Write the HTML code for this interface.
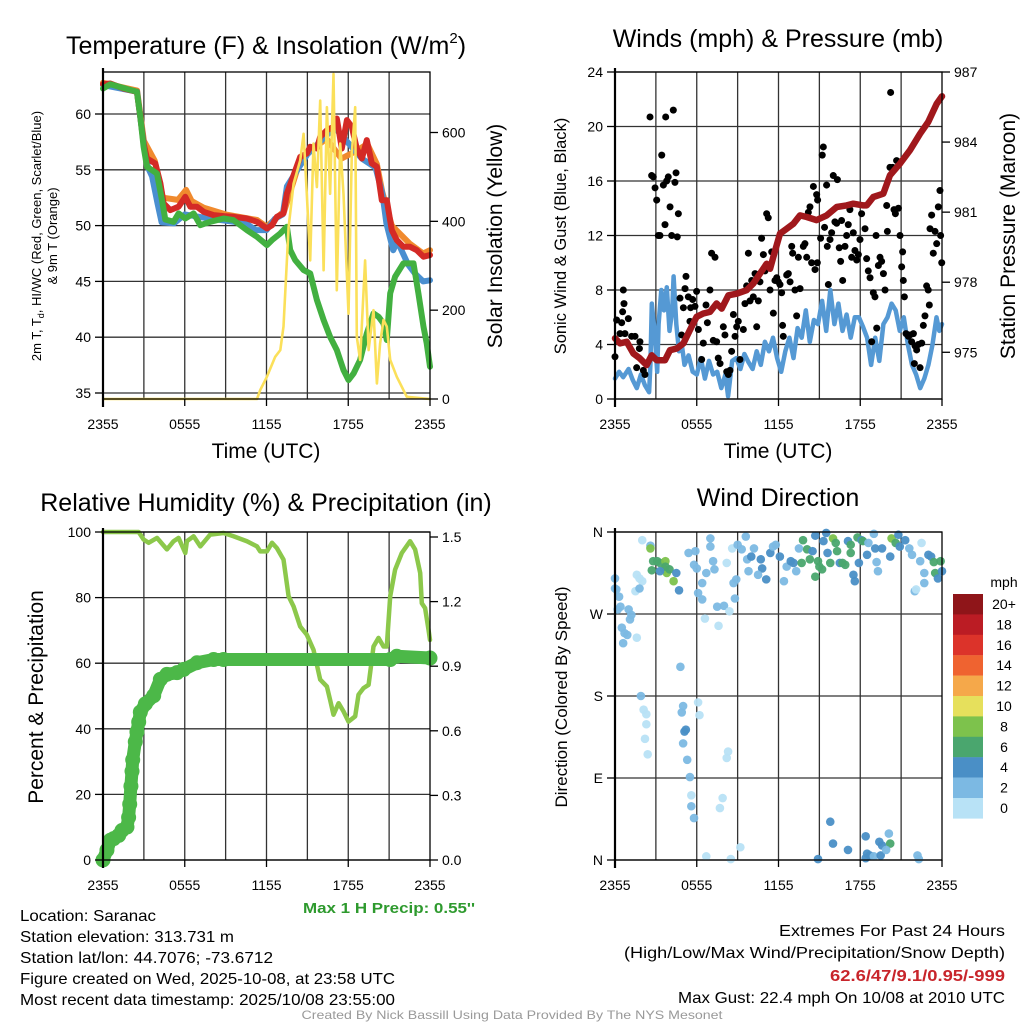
<!DOCTYPE html>
<html><head><meta charset="utf-8"><style>
html,body{margin:0;padding:0;background:#fff;}
svg{display:block;font-family:"Liberation Sans",sans-serif;}
.nar{font-family:"Liberation Sans Narrow","Liberation Sans",sans-serif;}
</style></head><body>
<svg id="fig" width="1024" height="1024" viewBox="0 0 1024 1024" xmlns="http://www.w3.org/2000/svg">
<g id="grid"></g>
<g id="marks"></g>
<g id="axes"></g>

<text x="266" y="54" font-size="25" text-anchor="middle">Temperature (F) &amp; Insolation (W/m<tspan font-size="15" dy="-11">2</tspan><tspan dy="11">)</tspan></text>
<text x="778" y="47" font-size="25" text-anchor="middle">Winds (mph) &amp; Pressure (mb)</text>
<text x="266" y="511" font-size="25" text-anchor="middle">Relative Humidity (%) &amp; Precipitation (in)</text>
<text x="778" y="506" font-size="25" text-anchor="middle">Wind Direction</text>

<text x="266" y="458" font-size="21" text-anchor="middle">Time (UTC)</text>
<text x="778" y="458" font-size="21" text-anchor="middle">Time (UTC)</text>

<text transform="translate(41,236) rotate(-90)" font-size="13" text-anchor="middle">2m T, T<tspan font-size="9" dy="3">d</tspan><tspan dy="-3">, HI/WC (Red, Green, Scarlet/Blue)</tspan></text>
<text transform="translate(57,236) rotate(-90)" font-size="13" text-anchor="middle">&amp; 9m T (Orange)</text>
<text transform="translate(502,236) rotate(-90)" font-size="21" text-anchor="middle">Solar Insolation (Yellow)</text>
<text transform="translate(566,236) rotate(-90)" font-size="16.5" text-anchor="middle">Sonic Wind &amp; Gust (Blue, Black)</text>
<text transform="translate(1015,236) rotate(-90)" font-size="21" text-anchor="middle">Station Pressure (Maroon)</text>
<text transform="translate(43,697) rotate(-90)" font-size="21" text-anchor="middle">Percent &amp; Precipitation</text>
<text transform="translate(567,697) rotate(-90)" font-size="17" text-anchor="middle">Direction (Colored By Speed)</text>

<g id="cbar"></g>
<text x="1004" y="587" font-size="14" text-anchor="middle">mph</text>

<text class="nar" x="303" y="913" font-size="15" font-weight="bold" fill="#2e9a2e" textLength="172" lengthAdjust="spacingAndGlyphs">Max 1 H Precip: 0.55''</text>
<text class="nar" x="20" y="921" font-size="16" textLength="136" lengthAdjust="spacingAndGlyphs">Location: Saranac</text>
<text class="nar" x="20" y="942" font-size="16" textLength="214" lengthAdjust="spacingAndGlyphs">Station elevation: 313.731 m</text>
<text class="nar" x="20" y="963" font-size="16" textLength="253" lengthAdjust="spacingAndGlyphs">Station lat/lon: 44.7076; -73.6712</text>
<text class="nar" x="20" y="984" font-size="16" textLength="375" lengthAdjust="spacingAndGlyphs">Figure created on Wed, 2025-10-08, at 23:58 UTC</text>
<text class="nar" x="20" y="1005" font-size="16" textLength="375" lengthAdjust="spacingAndGlyphs">Most recent data timestamp: 2025/10/08 23:55:00</text>

<text class="nar" x="1005" y="936" font-size="16" text-anchor="end" textLength="226" lengthAdjust="spacingAndGlyphs">Extremes For Past 24 Hours</text>
<text class="nar" x="1005" y="958" font-size="16" text-anchor="end" textLength="381" lengthAdjust="spacingAndGlyphs">(High/Low/Max Wind/Precipitation/Snow Depth)</text>
<text class="nar" x="1005" y="981" font-size="16" font-weight="bold" fill="#c8252b" text-anchor="end" textLength="175" lengthAdjust="spacingAndGlyphs">62.6/47/9.1/0.95/-999</text>
<text class="nar" x="1005" y="1003" font-size="16" text-anchor="end" textLength="327" lengthAdjust="spacingAndGlyphs">Max Gust: 22.4 mph On 10/08 at 2010 UTC</text>
<text class="nar" x="512" y="1019" font-size="12" fill="#999" text-anchor="middle" textLength="421" lengthAdjust="spacingAndGlyphs">Created By Nick Bassill Using Data Provided By The NYS Mesonet</text>
</svg>
<script>
// ---------- data ----------
const timeTickHours=[0,6,12,18,24];
const timeTickLabels=["2355","0555","1155","1755","2355"];
const tempTicks=[35,40,45,50,55,60];
const solarTicks=[0,200,400,600];
const windTicks=[0,4,8,12,16,20,24];
const presTicks=[975,978,981,984,987];
const rhTicks=[0,20,40,60,80,100];
const precipTicks=[0.0,0.3,0.6,0.9,1.2,1.5];
const precipTickLabels=["0.0","0.3","0.6","0.9","1.2","1.5"];
const dirTicks=[0,90,180,270,360];
const dirTickLabels=["N","E","S","W","N"];

const redH=[0,0.54,1.52,2.49,2.74,2.98,3.23,3.84,4.21,4.45,4.94,5.55,6.04,6.41,6.9,7.38,8.12,8.85,9.58,10.56,11.3,12.03,12.4,12.76,13.25,13.5,13.99,14.47,14.96,15.21,15.7,15.94,16.43,16.92,17.16,17.53,17.9,18.26,18.63,19.0,19.36,19.73,20.1,20.46,20.83,21.2,21.56,22.05,22.54,23.03,23.52,24];
const redT=[62.67,62.73,62.28,61.99,59.75,57.36,56.01,55.57,53.78,51.99,51.39,51.69,52.58,51.69,51.69,51.24,50.94,50.85,50.79,50.64,50.34,49.75,50.04,50.79,51.09,52.88,54.52,56.16,56.46,57.06,56.91,57.96,58.55,58.85,59.6,56.91,59.45,58.85,56.91,56.01,57.66,55.57,55.27,52.28,52.28,49.6,48.7,48.1,48.1,47.8,47.21,47.36];
const orangeH=[0,2.5,3,3.8,4.4,5.5,6.1,6.5,7.4,9,11.3,12,13.3,14.5,16.4,17.5,18.6,19.4,20.1,20.5,21.2,22.5,23.5,24];
const orangeT=[62.8,62.1,57.6,55.8,52.5,52.3,53.2,52.2,51.6,51,50.5,49.9,51.3,56,57.8,56,56.7,57.3,55.5,53,50,48.4,47.5,47.8];
const blueH=[0,2.5,2.74,3,3.3,3.6,4.0,4.3,5.2,6,8,10.5,11.2,12,12.6,13.2,13.5,14,15,17,19,20,20.5,20.8,21.3,21.6,22.4,22.9,23.5,24];
const blueT=[62.6,62,59.7,57.3,55.2,54.4,52.0,50.3,50.2,51,50.6,50.2,49.6,49.6,50.6,51,53.5,54.5,56.4,58.8,56,55.2,52.9,50.2,47.8,48.6,46.5,45.7,45.0,45.1];
const greenH=[0,0.54,2.49,2.74,2.98,3.23,3.96,4.33,4.57,5.18,5.55,6.04,6.65,7.14,7.87,8.85,9.58,10.56,11.3,12.03,12.4,13.01,13.5,13.74,14.11,14.72,15.21,15.7,16.19,16.67,17.16,17.65,18.02,18.39,18.87,19.36,19.85,20.22,20.59,20.83,21.08,21.44,22.05,22.79,23.15,23.52,23.76,24];
const greenT=[62.28,62.67,61.99,59.75,57.06,55.27,54.67,52.28,50.55,50.34,51.09,50.64,51.09,50.04,50.34,50.64,50.49,49.6,49.0,48.25,48.7,49.3,49.9,47.81,46.91,46.01,45.72,43.33,41.54,40.04,38.85,37.06,36.16,36.76,37.96,40.34,42.13,41.84,41.24,39.75,43.93,45.42,46.61,46.61,43.93,40.94,39.45,37.36];
const solarH=[0,11.3,11.54,12.03,12.64,13.01,13.25,13.62,13.99,14.47,14.72,14.96,15.21,15.45,15.7,15.94,16.19,16.43,16.67,16.92,17.16,17.41,17.65,18.02,18.26,18.51,18.63,18.87,19.24,19.49,19.85,20.1,20.34,20.59,20.83,21.08,21.56,22.3,24];
const solarW=[0,0,20,50,95,110,163,387,485,537,597,462,312,575,477,672,290,657,462,732,245,575,462,192,552,657,140,88,312,110,200,35,125,178,163,88,50,5,0];

const presH=[0,0.37,0.86,1.35,1.83,2.32,2.69,3.06,3.67,4.04,4.53,5.02,5.5,5.99,6.48,6.97,7.46,7.83,8.32,8.93,9.66,10.15,10.64,11.13,11.38,11.62,12.11,12.6,13.09,13.58,14.07,14.8,15.54,16.27,17.0,17.49,18.23,18.47,18.96,19.69,20.18,20.92,21.65,22.39,22.99,23.61,24];
const presMb=[975.6,975.38,975.45,974.95,974.74,974.45,974.87,974.66,974.66,975.09,975.16,975.38,975.95,976.52,976.66,976.73,977.09,976.87,977.44,977.51,977.66,977.94,978.37,978.79,978.58,979.08,980.08,980.29,980.5,980.86,980.79,980.66,980.86,981.22,981.29,981.36,981.29,981.29,981.65,981.79,982.58,983.08,983.65,984.36,984.86,985.64,985.96];
const windH=[0,0.3,0.6,1.0,1.3,1.6,1.9,2.2,2.5,2.6,2.7,2.9,3.1,3.2,3.4,3.6,3.8,4.0,4.2,4.3,4.5,4.7,4.9,5.1,5.4,5.7,6.0,6.3,6.6,6.9,7.2,7.5,7.8,8.1,8.3,8.6,8.9,9.2,9.5,9.8,10.1,10.4,10.7,11.0,11.3,11.6,11.9,12.2,12.5,12.8,13.1,13.4,13.7,14.0,14.3,14.6,14.9,15.2,15.5,15.8,16.1,16.4,16.7,17.0,17.3,17.6,17.9,18.2,18.5,18.8,19.1,19.4,19.7,20.0,20.3,20.6,20.9,21.2,21.5,21.8,22.1,22.4,22.7,23.0,23.3,23.6,23.8,24.0];
const windMph=[1.5,2.0,1.6,2.2,1.4,0.8,1.8,1.0,0.5,2.5,7.0,5.0,2.0,5.5,8.0,6.5,8.2,5.0,6.5,9.0,5.5,3.5,4.0,2.5,3.2,2.0,1.8,3.0,1.5,2.8,1.8,2.0,0.8,1.8,0.2,2.8,3.0,2.2,3.3,2.7,2.2,3.5,2.5,4.2,3.5,4.5,3.0,2.0,3.5,4.5,3.0,5.2,4.5,6.5,4.2,5.8,5.5,7.2,5.0,8.0,5.5,7.0,5.0,6.2,4.5,6.0,6.0,5.3,4.5,2.5,4.5,2.8,5.5,6.0,7.0,6.5,5.0,6.0,4.0,2.5,1.8,0.8,1.5,2.5,4.0,6.0,5.0,5.5];
const gustH=[0,0.12,0.37,0.49,0.61,0.66,0.56,0.73,0.98,1.22,1.47,1.59,1.83,1.79,2.08,2.2,2.57,2.69,2.81,2.94,3.06,3.18,3.3,3.43,3.55,3.67,3.72,3.79,3.91,4.04,4.16,4.28,4.4,4.48,4.57,4.65,4.77,4.89,5.02,5.14,5.21,5.38,5.5,5.55,5.7,5.87,5.99,6.12,6.36,6.48,6.68,6.78,6.97,7.09,7.34,7.21,7.46,7.58,7.71,7.95,8.07,8.2,8.32,8.44,8.56,8.69,8.81,8.93,9.05,9.17,9.42,9.54,9.66,9.79,9.91,10.03,10.15,10.28,10.4,10.52,10.64,10.76,10.89,11.01,11.13,11.25,11.38,11.5,11.62,11.74,11.87,11.99,12.11,12.23,12.3,12.35,12.6,12.72,12.85,12.97,13.04,13.21,13.33,13.46,13.58,13.82,13.94,14.07,14.19,14.31,14.43,14.56,14.68,14.8,14.85,14.87,15.09,15.21,15.29,15.38,15.53,15.58,15.66,15.78,15.9,16.02,16.14,16.27,16.32,16.46,16.56,16.63,16.71,16.88,17.0,17.12,17.24,17.37,17.49,17.61,17.74,17.86,17.98,18.1,18.35,18.47,18.59,18.72,18.84,18.96,19.08,19.16,19.21,19.33,19.45,19.57,19.7,19.82,19.94,19.99,20.18,20.23,20.38,20.48,20.58,20.67,20.8,20.92,21.04,21.11,21.16,21.24,21.36,21.53,21.65,21.77,21.9,21.97,22.02,22.14,22.26,22.39,22.51,22.63,22.75,22.87,22.99,23.07,23.12,23.24,23.36,23.49,23.61,23.73,23.85,23.9,23.98];
const gustMph=[3.1,5.8,4.8,5.6,8.0,7.0,6.4,4.8,5.9,4.6,4.6,2.3,4.2,3.7,2.1,1.8,20.7,16.4,16.3,15.5,14.6,12.0,12.0,17.9,15.7,12.8,20.7,16.0,16.3,14.1,12.0,21.2,15.9,16.6,11.9,13.6,7.4,4.7,6.7,8.1,9.0,7.5,5.7,6.7,7.3,6.8,7.9,5.1,2.9,4.1,6.9,5.6,8.0,10.7,10.4,4.3,4.2,3.0,2.6,5.3,4.7,2.0,1.8,2.1,3.5,6.2,4.6,5.3,5.7,2.9,5.1,7.0,8.3,10.7,7.2,8.7,7.5,9.2,5.3,7.2,8.6,11.8,10.6,9.4,13.6,13.3,8.0,10.8,6.3,8.7,8.9,8.6,8.4,7.8,5.4,4.6,9.1,9.2,8.6,11.2,10.7,8.0,6.1,10.4,8.1,11.2,11.4,10.4,13.7,14.1,10.0,15.6,9.5,15.0,10.0,14.6,11.8,17.9,18.5,12.6,15.7,11.2,8.4,11.7,12.2,16.4,13.0,12.9,16.1,11.1,10.1,13.1,8.7,11.2,12.0,12.8,13.9,10.4,12.2,10.9,10.2,10.6,11.7,13.6,12.5,10.3,9.4,8.9,4.2,7.8,7.5,12.0,5.2,9.8,10.4,10.1,9.2,8.0,14.2,12.3,17.0,22.5,17.0,13.9,13.6,17.5,14.0,12.0,9.7,10.8,8.7,7.5,4.8,4.6,4.7,4.2,4.8,2.6,3.9,3.6,4.0,2.3,4.1,5.4,6.1,8.3,8.0,6.9,12.5,13.5,10.7,12.3,11.4,14.1,15.3,12.0,10.0];

const rhH=[0,2.62,2.98,3.35,3.96,4.69,5.18,5.55,6.04,6.16,6.65,7.14,7.87,8.85,9.58,10.56,11.3,11.54,12.03,12.4,12.76,13.25,13.62,13.99,14.47,14.96,15.45,15.94,16.43,16.67,16.92,17.29,17.65,18.02,18.51,18.75,19.12,19.49,19.85,20.22,20.59,20.83,21.08,21.44,21.93,22.54,22.91,23.28,23.4,23.64,23.89,24];
const rhPct=[100,100,97.7,96.7,98.2,94.7,97.2,98.2,93.6,97.2,98.7,95.6,99.2,99.7,98.7,97.2,95.6,94.1,94.1,96.7,95.1,91.6,80.4,77.3,71.2,68.7,64.1,55.0,52.9,48.8,44.3,47.8,45.3,42.2,43.8,50.4,52.4,53.4,65.1,67.7,65.1,65.1,80.4,88.5,93.6,97.2,94.7,87.5,78.3,76.8,70.2,67.1];
const precipH=[0,0.29,0.54,0.78,1.15,1.39,1.76,1.88,1.96,2.05,2.13,2.18,2.37,2.49,2.62,2.74,3.11,3.72,4.21,4.69,5.43,5.92,6.9,8.12,8.85,21.08,21.56,24];
const precipIn=[0,0.046,0.092,0.099,0.114,0.137,0.153,0.198,0.259,0.343,0.412,0.465,0.549,0.595,0.641,0.687,0.725,0.763,0.839,0.862,0.87,0.885,0.916,0.931,0.931,0.931,0.946,0.938];

const dirH=[0,0,0.1,0.3,0.2,0.4,1.0,1.2,1.1,0.5,0.7,0.6,0.9,1.6,1.5,1.6,1.8,2.0,1.8,2.0,2.6,2.6,2.8,2.7,3.1,3.3,3.7,3.6,3.8,4.0,4.3,4.5,4.7,3.7,3.3,4.8,1.9,2.1,2.3,2.3,2.2,2.4,4.9,5.0,5.1,5.2,5.0,5.3,5.5,5.6,5.6,5.8,6.1,6.2,6.7,7.9,7.7,8.3,8.2,9.2,8.5,5.4,5.9,5.8,6.0,6.1,6.4,6.4,6.6,6.7,7.0,7.0,7.2,7.3,7.5,7.6,8.0,8.2,8.4,8.6,8.7,8.8,8.9,9.0,9.3,9.6,9.7,9.8,10.0,10.2,10.7,10.8,11.1,10.5,11.4,11.6,11.8,12.1,12.4,12.6,12.9,13.1,13.3,13.5,13.7,13.8,14.1,14.3,14.5,14.7,14.7,14.9,15.0,15.2,15.3,15.5,15.6,15.8,16.0,16.2,16.3,16.5,16.7,16.9,17.1,17.3,17.3,17.5,17.6,17.8,17.9,18.1,18.2,18.5,18.6,19.0,19.1,19.2,19.3,19.6,20.2,20.3,20.6,20.8,20.9,21.3,21.6,21.8,22.0,22.4,22.5,22.7,23.0,23.2,23.4,23.5,23.7,23.9,24.0,22.7,22.1,15.8,16.0,17.1,14.9,18.4,18.5,18.7,18.4,19.0,19.5,19.4,19.6,20.1,20.2,19.9,22.2,22.3];
const dirDeg=[309,298,297,289,275,278,275,269,264,255,249,238,247,244,295,313,309,306,298,351,345,342,328,318,328,326,328,319,315,319,306,315,296,322,317,212,180,165,160,149,133,116,162,169,141,143,128,110,91,71,59,46,173,159,4,68,57,119,112,14,1,337,339,324,320,293,286,304,265,315,353,344,328,319,278,257,279,326,273,342,304,287,308,346,341,355,330,317,333,342,330,320,308,313,337,344,346,333,306,322,328,326,317,342,326,351,341,330,339,356,311,328,322,319,350,359,337,326,353,348,339,326,326,324,350,346,337,313,306,354,326,351,350,335,348,358,342,327,317,342,333,353,348,357,344,351,342,335,295,328,348,315,335,333,327,315,309,328,317,304,297,42,18,11,1,26,7,5,2,4,5,20,16,29,18,11,5,1];
const dirSpd=[3,3,3,3,3,3,3,3,3,3,3,3,3,1,1,1,1,1,3,1,3,9,7,7,7,7,9,9,9,7,9,5,5,7,5,3,3,1,1,1,1,1,3,3,5,5,3,3,3,1,3,3,1,1,1,1,1,1,1,1,1,3,3,3,3,3,3,3,1,3,3,3,3,3,3,1,3,1,1,1,3,3,3,3,3,3,3,3,5,3,5,5,5,3,5,3,3,5,3,3,5,5,3,3,7,7,7,7,5,5,7,7,7,7,5,5,5,7,9,7,7,5,7,7,5,7,7,5,5,7,5,5,7,5,3,3,5,3,3,5,5,9,7,5,5,5,3,3,3,3,1,3,5,5,7,7,5,7,5,3,1,5,5,5,5,5,5,5,5,3,5,5,5,3,7,3,3,3];

const cbarLabels=["20+","18","16","14","12","10","8","6","4","2","0"];
const cbarColors=["#8f1519","#bb1c24","#dc332a","#ef6330","#f5a84a","#e6e05c","#7dc24c","#4aa66e","#4a8fc6","#7cb9e3","#b8e2f6"];

// ---------- helpers ----------
const NS="http://www.w3.org/2000/svg";
const G=document.getElementById('grid'),M=document.getElementById('marks'),A=document.getElementById('axes');
function mk(parent,tag,attrs){const e=document.createElementNS(NS,tag);for(const k in attrs)e.setAttribute(k,attrs[k]);parent.appendChild(e);return e;}
function lin(d0,d1,r0,r1){return v=>r0+(v-d0)/(d1-d0)*(r1-r0);}
function pathD(xs,ys,fx,fy){return xs.map((h,i)=>(i?'L':'M')+fx(h).toFixed(1)+','+fy(ys[i]).toFixed(1)).join('');}

const P=[
 {x0:103,x1:430,y0:72,y1:399,n:'temperature'},
 {x0:615,x1:942,y0:72,y1:399,n:'winds'},
 {x0:103,x1:430,y0:532,y1:860,n:'humidity'},
 {x0:615,x1:942,y0:532,y1:860,n:'direction'}];
P.forEach(p=>{p.x=lin(0,24,p.x0,p.x1);});
const tY=lin(35,60,393,114), sY=lin(0,600,399,132.5);
const wY=lin(0,24,399,72), pY=lin(973,987,399,72);
const rY=lin(0,100,860,532), qY=lin(0,1.5,860,537);
const dY=lin(0,360,860,532);

P.forEach((p,pi)=>{
  for(let h=3;h<24;h+=3){
    const l=mk(G,'line',{x1:p.x(h),x2:p.x(h),y1:p.y0,y2:p.y1,stroke:'#333','stroke-width':1.3});
    
    
  }
  const fr=mk(A,'rect',{x:p.x0,y:p.y0,width:p.x1-p.x0,height:p.y1-p.y0,fill:'none',stroke:'#000','stroke-width':1.3});
  
  
  const lx=mk(A,'line',{x1:p.x0,x2:p.x0,y1:p.y0-4,y2:p.y1+8,stroke:'#000','stroke-width':2.2});
  
  
  timeTickHours.forEach((h,i)=>{
    const t=mk(A,'line',{x1:p.x(h),x2:p.x(h),y1:p.y1,y2:p.y1+7,stroke:'#000','stroke-width':1.3});
    
    
    const tx=mk(A,'text',{x:p.x(h),y:p.y1+30,'font-size':14,'text-anchor':'middle'});
    tx.textContent=timeTickLabels[i];
    
    
  });
});
function hgrid(p,vals,f){vals.forEach(v=>{const l=mk(G,'line',{x1:p.x0,x2:p.x1,y1:f(v),y2:f(v),stroke:'#333','stroke-width':1.3});
  
  });}
function yTicks(p,vals,labels,f,side,name){vals.forEach((v,i)=>{
  const x=side==='l'?p.x0:p.x1, d=side==='l'?-8:8;
  const t=mk(A,'line',{x1:x,x2:x+d,y1:f(v),y2:f(v),stroke:'#000','stroke-width':1.3});
  
  
  const tx=mk(A,'text',{x:side==='l'?x-12:x+12,y:f(v)+5,'font-size':14,'text-anchor':side==='l'?'end':'start'});
  tx.textContent=labels[i];
  
  });}
hgrid(P[0],tempTicks,tY); yTicks(P[0],tempTicks,tempTicks,tY,'l','temperature-y');
yTicks(P[0],solarTicks,solarTicks,sY,'r','insolation-y');
hgrid(P[1],windTicks,wY); yTicks(P[1],windTicks,windTicks,wY,'l','wind-y');
yTicks(P[1],presTicks,presTicks,pY,'r','pressure-y');
hgrid(P[2],rhTicks,rY); yTicks(P[2],rhTicks,rhTicks,rY,'l','humidity-y');
yTicks(P[2],precipTicks,precipTickLabels,qY,'r','precip-y');
hgrid(P[3],dirTicks,dY); yTicks(P[3],dirTicks,dirTickLabels,dY,'l','direction-y');

const p1=P[0];
function line(xs,ys,fx,fy,col,w,name){const e=mk(M,'path',{d:pathD(xs,ys,fx,fy),fill:'none',stroke:col,'stroke-width':w,'stroke-linejoin':'round','stroke-linecap':'round'});
  
  return e;}
line(orangeH,orangeT,p1.x,tY,'#f08a2e',6,'9m-temperature-line');
line(blueH,blueT,p1.x,tY,'#4a8fd0',6,'wind-chill-line');
line(redH,redT,p1.x,tY,'#d42a26',6,'2m-temperature-line');
line(greenH,greenT,p1.x,tY,'#42b040',6,'dewpoint-line');
line(solarH,solarW,p1.x,sY,'#fbe05a',2.6,'solar-insolation-line');

const p2=P[1];
line(windH,windMph,p2.x,wY,'#5599d4',4.5,'sonic-wind-line');
gustH.forEach((h,i)=>{const c=mk(M,'circle',{cx:p2.x(h),cy:wY(gustMph[i]),r:3.5,fill:'#000'});
  
  });
line(presH,presMb,p2.x,pY,'#a0181c',6.5,'station-pressure-line');

const p3=P[2];
line(rhH,rhPct,p3.x,rY,'#8cc84b',4.5,'relative-humidity-line');
line(precipH,precipIn,p3.x,qY,'#4cb848',13,'precipitation-line');
precipH.forEach((h,i)=>{const c=mk(M,'circle',{cx:p3.x(h),cy:qY(precipIn[i]),r:7.5,fill:'#4cb848'});
  
  });

const p4=P[3];
function spdColor(s){let idx=Math.min(10,Math.floor(s/2));return cbarColors[10-idx];}
dirH.forEach((h,i)=>{const c=mk(M,'circle',{cx:p4.x(h),cy:dY(dirDeg[i]),r:4.3,fill:spdColor(dirSpd[i]),'fill-opacity':0.95});
  
  });

const CB=document.getElementById('cbar');
cbarLabels.forEach((lab,i)=>{
  const y=594+i*20.4;
  const r=mk(CB,'rect',{x:953,y:y,width:30,height:20.6,fill:cbarColors[i]});
  
  
  const t=mk(CB,'text',{x:1004,y:y+15,'font-size':14,'text-anchor':'middle'});
  t.textContent=lab;
  
  
});
</script>
</body></html>
